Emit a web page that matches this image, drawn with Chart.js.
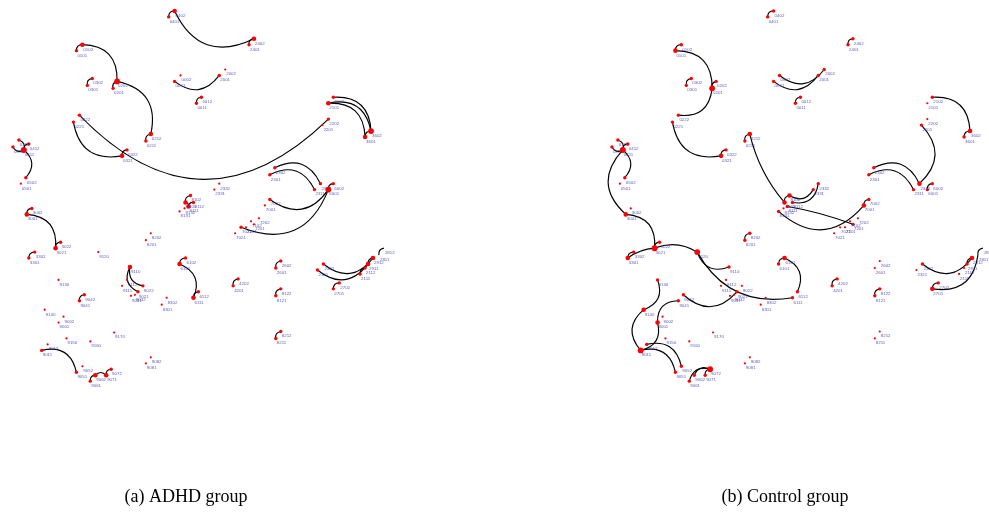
<!DOCTYPE html>
<html>
<head>
<meta charset="utf-8">
<script src="https://cdn.jsdelivr.net/npm/chart.js@4.4.1/dist/chart.umd.min.js"></script>
<style>
  html, body { margin: 0; padding: 0; background: #fff; }
  #wrap { position: relative; width: 989px; height: 520px; overflow: hidden; }
  .panel { position: absolute; top: 0; height: 520px; }
  #p1 { left: 0; width: 400px; }
  #p2 { left: 599px; width: 390px; }
</style>
</head>
<body>
<div id="wrap">
  <div class="panel" id="p1"><canvas id="c1" width="400" height="520"></canvas></div>
  <div class="panel" id="p2"><canvas id="c2" width="390" height="520"></canvas></div>
</div>
<script>
// Channel identifiers and their layout position (shared by both groups)
const pointLabels = [
  '0401','0402','0101','0102','0301','0302','0201','0202','0211','0212',
  '0221','0222','0321','0322','0001','0002','0011','0012','2401','2402',
  '2001','2002','2101','2102','2201','2202','3601','3602','0311','0312',
  '0411','0412','0501','0502','2301','2302','2311','2312','6001','6002',
  '2331','2332','7001','7002','7201','7202','7101','7102','7021','7022',
  '2601','2602','4201','4202','8121','8122','8211','8212','2811','2812',
  '2911','2912','2111','2112','2321','2322','2701','2702','3001','3002',
  '3021','3022','3301','3302','9120','9130','9041','9042','9140','9001',
  '9002','9150','9160','9170','9011','9012','9051','9052','9061','9062',
  '9071','9072','9081','9082','8201','8202','9110','9111','9112','9021',
  '9022','9031','9032','6101','6102','6111','6112','8301','8302','8101',
  '8102','8111','8112','8131','8132'
];
const pointX = [
  167,173, 74, 80, 85, 90,111,115,144,149,
   71, 77,120,125,173,179,195,200,248,253,
  218,224,328,333,322,328,365,371, 10, 16,
   21, 26, 18, 23,269,274,314,320,328,333,
  213,218,264,269,253,258,245,250,234,240,
  275,280,232,237,275,280,275,280,379,384,
  368,373,360,365,317,323,333,339, 24, 29,
   53, 58, 26, 32, 96, 56, 77, 82, 42, 56,
   61, 64, 88,112, 39, 45, 74, 80, 88, 93,
  104,109,144,149,144,149,128,120,125,136,
  141,129,133,178,184,192,197,160,165,184,
  189,187,192,178,183
];
const pointY = [
   14,  8, 48, 42, 83, 76, 86, 79,139,132,
  120,113,154,148, 79, 73,101, 95, 42, 36,
   73, 67,101, 95,123,117,135,129,145,138,
  148,142,182,176,173,166,188,182,188,182,
  188,182,204,198,223,217,226,220,232,226,
  267,260,285,278,295,288,338,331,254,247,
  263,257,273,267,269,263,288,282,213,207,
  247,241,257,251,251,279,300,294,309,322,
  316,338,341,332,350,344,372,366,381,375,
  375,369,363,357,239,232,266,285,279,291,
  285,295,294,263,257,297,291,304,297,201,
  194,205,201,210,207
];

// Connections found in each group: [from, to]
const adhdEdges = [
  ['0401','0402'],['0101','0102'],['0301','0302'],['0201','0202'],['0211','0212'],
  ['0321','0322'],['0011','0012'],['2401','2402'],['3601','3602'],['2601','2602'],
  ['4201','4202'],['8121','8122'],['8211','8212'],['3001','3002'],['3021','3022'],
  ['3301','3302'],['9041','9042'],['6001','6002'],['6101','6102'],['6111','6112'],
  ['2811','2812'],['2911','2912'],['2111','2112'],['2701','2702'],['0411','0412'],
  ['9071','9072'],['8101','8102'],['8111','8112'],
  ['2402','0402'],['0102','0202'],['0202','0212'],['0321','0221'],['2202','0222'],
  ['2001','0001'],['2102','3602'],['2101','3602'],['2101','3601'],['2302','2312'],
  ['2301','2311'],['6001','7002'],['6001','7022'],['0411','0311'],['0312','0411'],
  ['0411','0502'],['3001','3021'],['9011','9051'],['9061','9062'],['9062','9071'],
  ['6101','6111'],['9022','9110'],['9021','9110'],['8101','8111'],['2912','2322'],
  ['2911','2321']
];
const controlEdges = [
  ['0401','0402'],['0101','0102'],['0301','0302'],['0201','0202'],['0211','0212'],
  ['0321','0322'],['0011','0012'],['2401','2402'],['3601','3602'],['6001','6002'],
  ['2811','2812'],['3301','3302'],['8201','8202'],['4201','4202'],['8121','8122'],
  ['9071','9072'],['2701','2702'],['2911','2912'],['0411','0412'],['8101','8102'],
  ['7001','7002'],['6101','6102'],['3021','3022'],
  ['0101','0201'],['0201','0222'],['0321','0221'],['0411','0311'],['0312','0411'],
  ['0411','0502'],['3001','0411'],['8101','0212'],['2002','0002'],['2001','0001'],
  ['2102','3602'],['2201','2312'],['2302','2312'],['2301','2311'],['2331','8102'],
  ['2332','8112'],['8111','7201'],['7001','8131'],['3001','3021'],['3301','3021'],
  ['3021','9120'],['9110','9120'],['6111','9120'],['9021','9042'],['9001','9041'],
  ['9130','9140'],['9011','9140'],['9001','9011'],['9012','9052'],['9011','9051'],
  ['9061','9072'],['9062','9072'],['6102','6112'],['2912','2322'],['2811','2701']
];

const captions = ['(a) ADHD group', '(b) Control group'];

// ---- drawing styles ----
const DEFAULT_BEND = 0.5;
const bendOverride = {
  '8101-0212': 0.12, '8111-7201': 0.05, '3301-3021': 0.15,
  '3021-9120': 0.25, '6111-9120': 0.35
};
const LABEL_COLOR = 'rgba(50, 50, 175, 0.8)';
const POINT_COLOR = '#ff0000';

const indexOf = Object.fromEntries(pointLabels.map((l, i) => [l, i]));

function degreesFor(edges) {
  const deg = new Array(pointLabels.length).fill(0);
  edges.forEach(([a, b]) => { deg[indexOf[a]]++; deg[indexOf[b]]++; });
  return deg;
}

// curved links between channels, drawn under the points
const edgeLayer = {
  id: 'edgeLayer',
  beforeDatasetsDraw(chart, args, opts) {
    const { ctx, scales: { x, y } } = chart;
    ctx.save();
    ctx.strokeStyle = '#000';
    ctx.lineWidth = 1.15;
    opts.edges.forEach(([a, b]) => {
      const i = indexOf[a], j = indexOf[b];
      const ax = x.getPixelForValue(pointX[i]), ay = y.getPixelForValue(pointY[i]);
      const bx = x.getPixelForValue(pointX[j]), by = y.getPixelForValue(pointY[j]);
      const k = bendOverride[a + '-' + b] ?? DEFAULT_BEND;
      const cx = (ax + bx) / 2 + k * (by - ay);
      const cy = (ay + by) / 2 - k * (bx - ax);
      ctx.beginPath();
      ctx.moveTo(ax, ay);
      ctx.quadraticCurveTo(cx, cy, bx, by);
      ctx.stroke();
    });
    ctx.restore();
  }
};

// channel names next to each point
const labelLayer = {
  id: 'labelLayer',
  afterDatasetsDraw(chart) {
    const { ctx, scales: { x, y } } = chart;
    ctx.save();
    ctx.fillStyle = LABEL_COLOR;
    ctx.font = '4.4px "Liberation Sans", Arial, sans-serif';
    ctx.textBaseline = 'top';
    ctx.textAlign = 'left';
    pointLabels.forEach((lab, i) => {
      const px = x.getPixelForValue(pointX[i]);
      const py = y.getPixelForValue(pointY[i]);
      ctx.fillText(lab, px + 1, py + 2.5);
    });
    ctx.restore();
  }
};

function makeChart(canvasId, edges, caption, rightPad) {
  const deg = degreesFor(edges);
  const radii = deg.map(d => Math.min(1.1 + 0.6 * d, 3));
  new Chart(document.getElementById(canvasId), {
    type: 'scatter',
    data: {
      datasets: [{
        data: pointLabels.map((l, i) => ({ x: pointX[i], y: pointY[i] })),
        pointRadius: radii,
        pointHoverRadius: radii,
        backgroundColor: POINT_COLOR,
        borderWidth: 0,
        clip: false
      }]
    },
    options: {
      responsive: false,
      animation: false,
      devicePixelRatio: 1,
      layout: { padding: { left: 0, right: rightPad, top: 0, bottom: 0 } },
      scales: {
        x: { type: 'linear', min: 0, max: 372, display: false },
        y: { type: 'linear', min: 0, max: 400, reverse: true, display: false }
      },
      plugins: {
        legend: { display: false },
        tooltip: { enabled: false },
        title: {
          display: true,
          text: caption,
          position: 'bottom',
          color: '#000',
          font: { family: '"Liberation Serif", "DejaVu Serif", serif', size: 18, weight: 'normal', lineHeight: 1.2 },
          padding: { top: 86, bottom: 12.4 }
        },
        edgeLayer: { edges: edges }
      }
    },
    plugins: [edgeLayer, labelLayer]
  });
}

makeChart('c1', adhdEdges, captions[0], 28);
makeChart('c2', controlEdges, captions[1], 18);
</script>
</body>
</html>
